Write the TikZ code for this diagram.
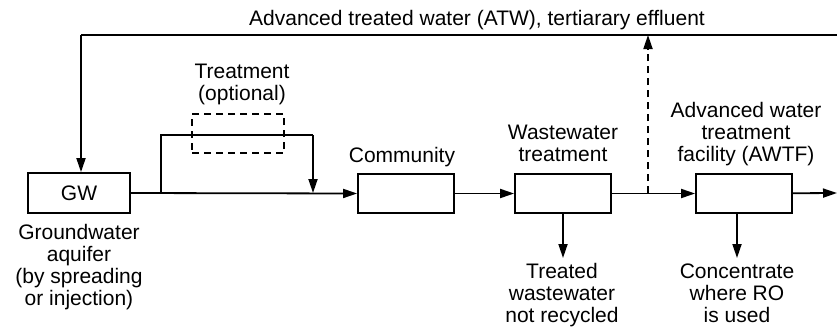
\documentclass[tikz,border=0pt]{standalone}
\usepackage{fontspec}
\setmainfont{Liberation Sans}
\usetikzlibrary{arrows.meta}
\begin{document}
\begin{tikzpicture}[x=1pt,y=-1pt,
  lw/.style={line width=1.8pt},
  blk/.style={draw,lw,minimum width=96pt,minimum height=39pt,inner sep=0pt,font=\fontsize{21}{22}\selectfont},
  lbl/.style={align=center,inner sep=0pt,font=\fontsize{21}{22}\selectfont,anchor=base},
  arr/.style={lw,-{Triangle[length=14pt,width=9pt]}},
  dsh/.style={dash pattern=on 7pt off 5pt}]
\useasboundingbox (0,0) rectangle (837,327);
% boxes
\node[blk,minimum width=102pt,minimum height=40pt] (gw) at (79,193) {GW};
\node[blk] (com) at (406,193.5) {};
\node[blk] (wwt) at (563,193.5) {};
\node[blk] (awtf) at (744,193.5) {};
\node[blk,dsh,minimum width=92pt] (opt) at (238,133.5) {};
% labels (anchor = baseline of last line)
\node[lbl] (tatw) at (477,25) {Advanced treated water (ATW), tertiarary effluent};
\node[lbl] (ttr) at (242,100) {Treatment\\(optional)};
\node[lbl] (tcom) at (402,162) {Community};
\node[lbl] (twwt) at (563,161) {Wastewater\\treatment};
\node[lbl] (tawtf) at (746,161) {Advanced water\\treatment\\facility (AWTF)};
\node[lbl] (tgw) at (79,305) {Groundwater\\aquifer\\(by spreading\\or injection)};
\node[lbl] (tnr) at (562,322) {Treated\\wastewater\\not recycled};
\node[lbl] (tro) at (737,322) {Concentrate\\where RO\\is used};
% coordinates
\coordinate (tl) at (81,35);
\coordinate (tr) at (837,35);
\coordinate (sp) at (161,193);
\coordinate (b1) at (161,135);
\coordinate (b2) at (313,135);
\coordinate (j) at (313,193);
\coordinate (d0) at (648,193);
\coordinate (d1) at (648,35);
\coordinate (outr) at (837,193);
\coordinate (n1) at (563,258);
\coordinate (n2) at (737,258);
% connectors
\draw[lw] (tr) -- (tl);
\draw[arr] (tl) -- (tl |- gw.north);
\draw[arr] (gw.east) -- (com.west);
\draw[lw] (sp) -- (b1) -- (b2);
\draw[arr] (b2) -- (j);
\draw[arr] (com) -- (wwt);
\draw[arr] (wwt) -- (awtf);
\draw[arr,dsh] (d0) -- (d1);
\draw[arr] (awtf) -- (outr);
\draw[arr] (wwt.south) -- (n1);
\draw[arr] (awtf.south -| n2) -- (n2);
\end{tikzpicture}
\end{document}
